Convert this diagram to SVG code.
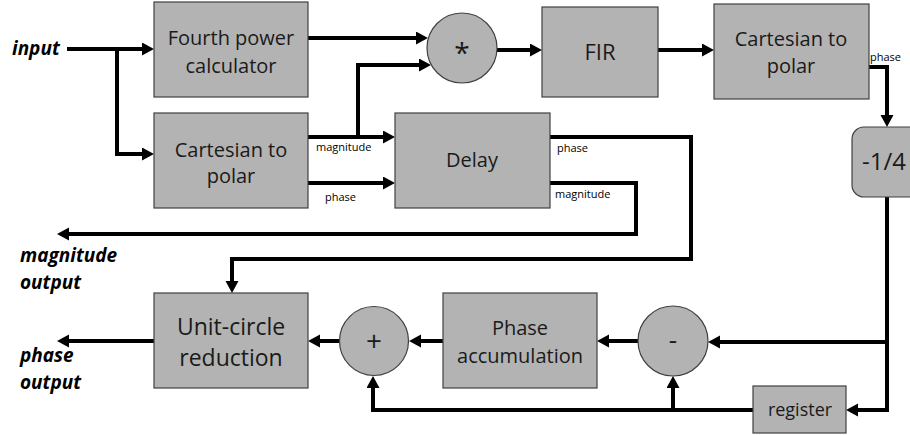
<svg xmlns="http://www.w3.org/2000/svg" width="910" height="435" viewBox="0 0 910 435">
<defs>
<style>
.box{fill:#b3b3b3;stroke:#404040;stroke-width:1.2}
.t{font-family:"Open Sans","Liberation Sans",sans-serif;fill:#1a1a1a;text-anchor:middle}
.s{font-family:"Open Sans","Liberation Sans",sans-serif;font-size:11px;fill:#000}
.b{font-family:"Open Sans","Liberation Sans",sans-serif;font-size:19px;font-weight:bold;font-style:italic;fill:#000}
.c{fill:none;stroke:#000;stroke-width:4;stroke-linejoin:miter}
.a{marker-end:url(#ah)}
</style>
<marker id="ah" markerUnits="userSpaceOnUse" markerWidth="14" markerHeight="14" refX="4" refY="6.5" orient="auto">
<path d="M0,0 L12,6.5 L0,13 z" fill="#000"/>
</marker>
</defs>
<rect width="910" height="435" fill="#fff"/>
<g id="connectors">
<path class="c a" d="M67,49 H146"/>
<path class="c a" d="M117,49 V154 H146"/>
<path class="c a" d="M308,38 H420"/>
<path class="c a" d="M358,137 V65 H423"/>
<path class="c a" d="M308,137 H387"/>
<path class="c a" d="M308,183 H387"/>
<path class="c a" d="M497,50 H534"/>
<path class="c a" d="M658,50 H706"/>
<path class="c a" d="M869,67 H887 V119"/>
<path class="c a" d="M550,137 H691 V259 H232 V285"/>
<path class="c a" d="M550,183 H636 V234 H65"/>
<path class="c a" d="M887,197 V410 H854"/>
<path class="c a" d="M887,342 H716"/>
<path class="c a" d="M638,341 H605"/>
<path class="c a" d="M753,410 H373 V384"/>
<path class="c a" d="M673,410 V384"/>
<path class="c a" d="M443,341 H417"/>
<path class="c a" d="M339,341 H316"/>
<path class="c a" d="M154,341 H65"/>
</g>
<g id="fourth">
<rect class="box" x="154" y="2" width="154" height="95"/>
<text class="t" font-size="20" x="231" y="45">Fourth power</text>
<text class="t" font-size="20" x="231" y="73">calculator</text>
</g>
<g id="cart1">
<rect class="box" x="154" y="113" width="154" height="95"/>
<text class="t" font-size="20" x="231" y="157">Cartesian to</text>
<text class="t" font-size="20" x="231" y="183">polar</text>
</g>
<g id="mult">
<circle class="box" cx="462" cy="48" r="35"/>
<text class="t" font-size="28" x="462" y="63">*</text>
</g>
<g id="fir">
<rect class="box" x="542" y="7" width="116" height="90"/>
<text class="t" font-size="22" x="600" y="60">FIR</text>
</g>
<g id="cart2">
<rect class="box" x="714" y="4" width="155" height="95"/>
<text class="t" font-size="20" x="791" y="46">Cartesian to</text>
<text class="t" font-size="20" x="791" y="73">polar</text>
</g>
<g id="quarter">
<rect class="box" x="852" y="127" width="80" height="70" rx="12"/>
<text class="t" font-size="24" x="884" y="170">-1/4</text>
</g>
<g id="delay">
<rect class="box" x="395" y="113" width="155" height="95"/>
<text class="t" font-size="20" x="472" y="167">Delay</text>
</g>
<g id="unit">
<rect class="box" x="154" y="293" width="154" height="95"/>
<text class="t" font-size="23" x="231" y="335">Unit-circle</text>
<text class="t" font-size="23" x="231" y="366">reduction</text>
</g>
<g id="plus">
<circle class="box" cx="374" cy="341" r="34.5"/>
<text class="t" font-size="28" x="374" y="351">+</text>
</g>
<g id="phaseacc">
<rect class="box" x="443" y="293" width="154" height="95"/>
<text class="t" font-size="20" x="520" y="335">Phase</text>
<text class="t" font-size="20" x="520" y="363">accumulation</text>
</g>
<g id="minus">
<circle class="box" cx="673" cy="341" r="35"/>
<text class="t" font-size="26" x="673" y="349">-</text>
</g>
<g id="register">
<rect class="box" x="753" y="386" width="93" height="47"/>
<text class="t" font-size="18" x="800" y="416">register</text>
</g>
<g id="labels">
<text class="s" x="316" y="151">magnitude</text>
<text class="s" x="325" y="201">phase</text>
<text class="s" x="557" y="152">phase</text>
<text class="s" x="555" y="198">magnitude</text>
<text class="s" x="870" y="61">phase</text>
<text class="b" x="12" y="55">input</text>
<text class="b" x="20" y="262">magnitude</text>
<text class="b" x="20" y="289">output</text>
<text class="b" x="20" y="362">phase</text>
<text class="b" x="20" y="389">output</text>
</g>
</svg>
